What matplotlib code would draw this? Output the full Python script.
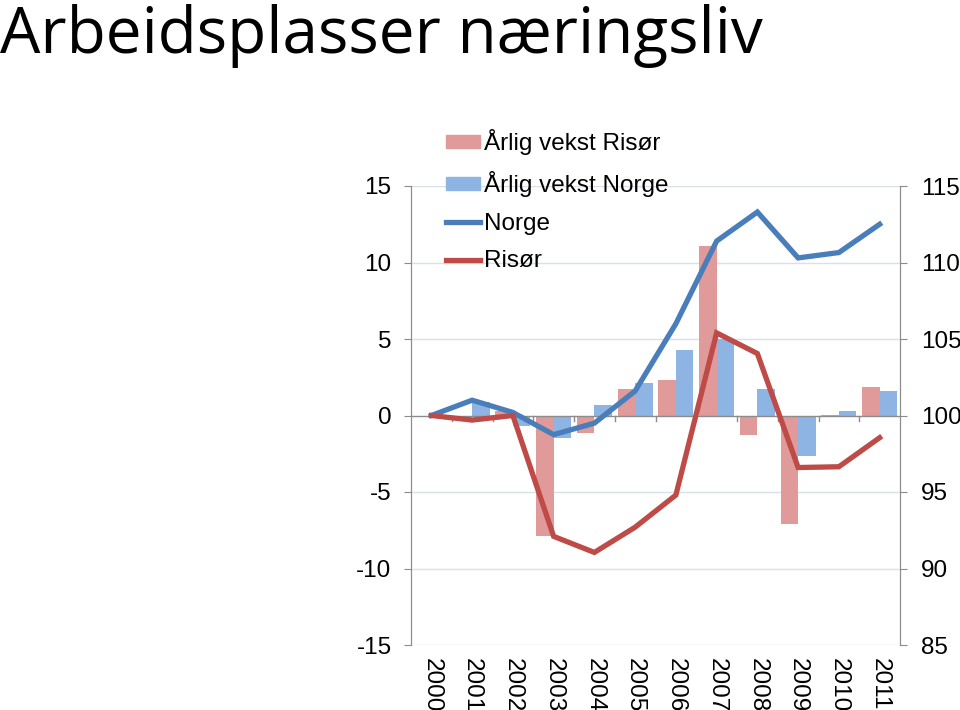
import numpy as np
import matplotlib
matplotlib.use("Agg")
import matplotlib.pyplot as plt
from matplotlib.patches import Patch
from matplotlib.lines import Line2D

years = ["2000", "2001", "2002", "2003", "2004", "2005",
         "2006", "2007", "2008", "2009", "2010", "2011"]
vekst_risor = [0.0, -0.3, 0.3, -7.9, -1.15, 1.7, 2.35, 11.1, -1.3, -7.1, 0.05, 1.85]
vekst_norge = [0.0, 0.9, -0.7, -1.45, 0.7, 2.1, 4.25, 5.0, 1.7, -2.65, 0.3, 1.6]
indeks_norge = [100.0, 101.0, 100.2, 98.75, 99.5, 101.6, 106.0, 111.4, 113.3, 110.3, 110.65, 112.5]
indeks_risor = [100.0, 99.7, 100.0, 92.1, 91.05, 92.7, 94.8, 105.4, 104.05, 96.6, 96.65, 98.55]

PINK = "#DF9A99"
LBLUE = "#8EB4E3"
BLUE = "#4A7EBB"
RED = "#BE4B48"
GRID = "#D9E0E7"
AXC = "#8C8C8C"
FS = 17.5

plt.rcParams["font.family"] = ["Liberation Sans", "DejaVu Sans"]
plt.rcParams["axes.unicode_minus"] = False

fig = plt.figure(figsize=(9.6, 7.1), dpi=100)
ax = fig.add_axes([411 / 960, 1 - 645 / 710, 489 / 960, 459 / 710])
ax2 = ax.twinx()

x = np.arange(len(years))
w = 0.43
ax.bar(x - w / 2, vekst_risor, width=w, color=PINK, zorder=2)
ax.bar(x + w / 2, vekst_norge, width=w, color=LBLUE, zorder=2)
ax.set_xlim(-0.5, len(years) - 0.5)
ax.set_ylim(-15, 15)
ax.set_yticks(range(-15, 16, 5))
for v in range(-15, 16, 5):
    if v != 0:
        ax.axhline(v, color=GRID, lw=1.0, zorder=0)
ax.axhline(0, color=AXC, lw=1.0, zorder=3)
# category tick marks on the zero line
for b in np.arange(0.5, len(years) - 0.5, 1):
    ax.plot([b, b], [0, -0.35], color=AXC, lw=1.0, zorder=3, clip_on=False)

ax.set_xticks(x)
ax.set_xticklabels(years, rotation=-90, fontsize=FS)
ax.tick_params(axis="x", length=0, pad=9)
ax.tick_params(axis="y", labelsize=FS, colors=AXC, labelcolor="black", length=5, pad=9)

ax2.plot(x, indeks_norge, color=BLUE, lw=3.8, zorder=4, solid_joinstyle="miter")
ax2.plot(x, indeks_risor, color=RED, lw=3.8, zorder=4, solid_joinstyle="miter")
ax2.set_ylim(85, 115)
ax2.set_yticks(range(85, 116, 5))
ax2.tick_params(axis="y", labelsize=FS, colors=AXC, labelcolor="black", length=5, pad=10)

for a in (ax, ax2):
    a.spines["top"].set_visible(False)
    a.spines["bottom"].set_visible(False)
    a.spines["left"].set_color(AXC)
    a.spines["right"].set_color(AXC)
ax.set_zorder(ax2.get_zorder() - 1)
ax.patch.set_visible(True)
ax2.patch.set_visible(False)

handles = [
    Patch(color=PINK, label="Årlig vekst Risør"),
    Patch(color=LBLUE, label="Årlig vekst Norge"),
    Line2D([], [], color=BLUE, lw=3.8, label="Norge"),
    Line2D([], [], color=RED, lw=3.8, label="Risør"),
]
fig.legend(handles=handles, loc="upper left", bbox_to_anchor=(446 / 960, 1 - 129 / 710),
           frameon=False, fontsize=FS, handlelength=1.4, handleheight=0.45,
           handletextpad=0.15, labelspacing=0.65, borderpad=0, borderaxespad=0)

fig.text(0.0, 1 - 4 / 710, "Arbeidsplasser næringsliv", fontsize=46,
         family=["Open Sans", "DejaVu Sans"], va="top", ha="left")

fig.savefig("out.png", dpi=100)
